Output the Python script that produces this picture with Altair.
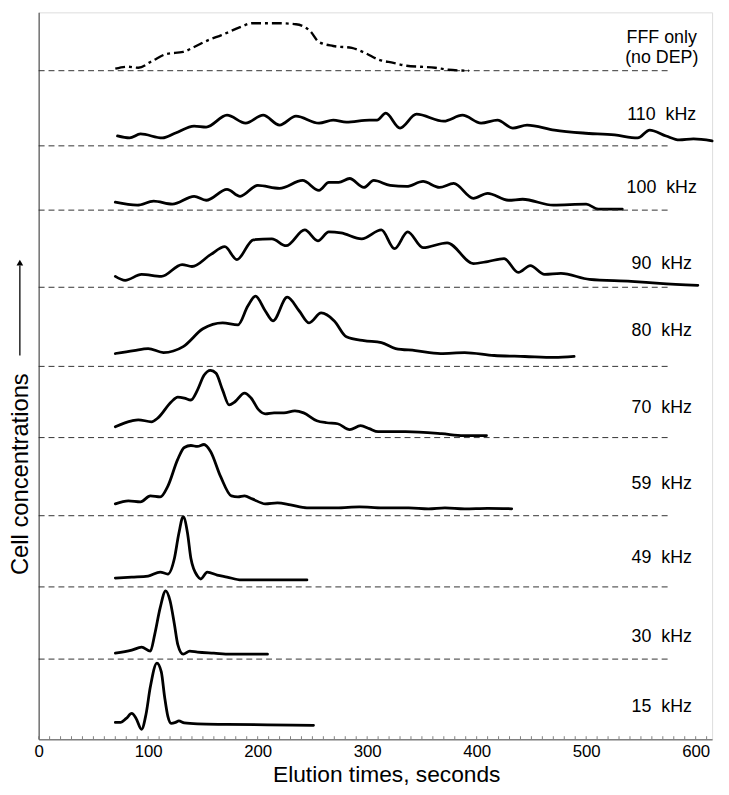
import altair as alt
import pandas as pd

# ---- data (elution time in seconds, relative cell concentration above each baseline) ----
series_names = ["FFF only", "110 kHz", "100 kHz", "90 kHz", "80 kHz", "70 kHz",
                "59 kHz", "49 kHz", "30 kHz", "15 kHz"]
baselines = [676, 600, 535, 457, 377, 305, 226, 154, 81, 9]
show_baseline = [True, True, True, True, True, True, True, True, True, False]

t_fff = [70, 81, 91, 104, 117, 132, 142, 155, 167, 184, 195, 218, 235, 248, 256, 269, 286, 298, 311, 324, 336, 349, 362, 374, 393]
h_fff = [2, 4, 3, 10, 17, 19, 24, 31, 36, 44, 48, 48, 47, 40, 29, 25, 23, 18, 11, 8, 5, 4, 3, 1, 0]

t_110 = [72, 83, 93, 113, 125, 142, 153, 172, 189, 205, 220, 235, 256, 269, 281, 302, 309, 317, 330, 345, 370, 387, 404, 419, 433, 446, 471, 497, 526, 547, 558, 573, 585, 598, 615]
h_110 = [10, 8, 12, 8, 13, 20, 19, 31, 23, 31, 21, 30, 23, 26, 24, 26, 26, 33, 18, 32, 25, 31, 23, 26, 18, 21, 16, 13, 11, 8, 16, 10, 6, 7, 5]

t_100 = [70, 90, 105, 122, 142, 153, 172, 184, 200, 220, 241, 256, 265, 274, 284, 297, 306, 321, 336, 351, 366, 379, 397, 410, 429, 442, 470, 500, 511, 533]
h_100 = [8, 5, 9, 6, 14, 10, 21, 14, 25, 22, 30, 20, 28, 28, 32, 23, 30, 25, 24, 29, 23, 27, 12, 17, 10, 11, 5, 6, 1, 1]

t_90 = [70, 79, 94, 112, 131, 140, 157, 170, 181, 196, 213, 226, 243, 255, 265, 276, 295, 313, 325, 337, 351, 373, 397, 410, 425, 438, 449, 462, 477, 503, 541, 567, 602]
h_90 = [11, 7, 13, 11, 23, 21, 33, 41, 28, 48, 49, 42, 58, 47, 56, 55, 49, 58, 39, 56, 40, 45, 24, 26, 29, 15, 22, 13, 14, 8, 6, 4, 2]

t_80 = [70, 87, 100, 114, 132, 150, 168, 182, 191, 198, 207, 214, 227, 238, 247, 258, 270, 281, 297, 313, 326, 344, 367, 389, 416, 444, 471, 489]
h_80 = [13, 16, 18, 14, 20, 38, 44, 42, 61, 71, 56, 46, 70, 56, 44, 54, 46, 30, 26, 24, 18, 16, 13, 14, 11, 10, 9, 10]

t_70 = [70, 85, 91, 103, 109, 121, 127, 133, 139, 145, 151, 157, 162, 168, 174, 179, 188, 194, 201, 207, 215, 224, 234, 242, 254, 263, 273, 284, 294, 302, 310, 335, 368, 388, 409]
h_70 = [11, 17, 18, 16, 20, 36, 41, 40, 38, 48, 63, 68, 65, 48, 33, 36, 45, 40, 28, 24, 25, 25, 27, 25, 17, 15, 14, 8, 12, 9, 6, 6, 4, 2, 2]

t_59 = [70, 82, 93, 102, 111, 118, 127, 133, 139, 145, 151, 157, 166, 176, 182, 188, 195, 207, 218, 230, 245, 272, 293, 314, 338, 356, 371, 389, 410, 432]
h_59 = [12, 15, 14, 20, 19, 30, 57, 69, 71, 70, 72, 65, 40, 20, 19, 20, 17, 12, 13, 11, 8, 8, 9, 8, 8, 7, 8, 7, 7.5, 7]

t_49 = [70, 85, 100, 111, 118, 124, 128, 132, 136, 139, 145, 148, 154, 163, 172, 185, 206, 245]
h_49 = [9, 10, 11, 15, 13, 29, 54, 71, 54, 29, 11, 8, 15, 12, 10, 7, 7, 7]

t_30 = [70, 85, 94, 102, 106, 111, 116, 120, 124, 127, 132, 138, 145, 160, 175, 209]
h_30 = [6, 9, 12, 8, 25, 52, 69, 59, 35, 15, 5, 8, 7, 6, 5, 5]

t_15 = [70, 75, 80, 85, 89, 94, 98, 102, 108, 112, 115, 118, 121, 125, 128, 133, 145, 172, 209, 251]
h_15 = [8, 8, 12, 17, 12, 1, 16, 44, 68, 59, 34, 14, 7, 8, 9.5, 7.5, 6.5, 6, 5.5, 5]

label_text = ["FFF only", "(no DEP)", "110\u00a0 kHz", "100\u00a0 kHz", "90\u00a0 kHz", "80\u00a0 kHz",
              "70\u00a0 kHz", "59\u00a0 kHz", "49\u00a0 kHz", "30\u00a0 kHz", "15\u00a0 kHz"]
label_y = [709, 689, 631, 557, 480, 413, 335, 258, 183, 103, 32]
label_t = 569

x_ticks = [0, 100, 200, 300, 400, 500, 600]
minor_ticks = list(range(0, 611, 10))
baseline_end = 576

# ---- build tables ----
times = [t_fff, t_110, t_100, t_90, t_80, t_70, t_59, t_49, t_30, t_15]
heights = [h_fff, h_110, h_100, h_90, h_80, h_70, h_59, h_49, h_30, h_15]
rows = []
for name, base, ts, hs in zip(series_names, baselines, times, heights):
    for t, h in zip(ts, hs):
        rows.append({"series": name, "t": t, "y": base + h})
df = pd.DataFrame(rows)
df_solid = df[df.series != "FFF only"]
df_fff = df[df.series == "FFF only"]

df_base = pd.DataFrame({"b": [b for b, s in zip(baselines, show_baseline) if s]})
df_base["xs"] = 0
df_base["xe"] = baseline_end
df_lab = pd.DataFrame({"text": label_text, "y": label_y})
df_lab["t"] = label_t
df_ticks = pd.DataFrame({"tk": minor_ticks})

W, H = 681, 735
FONT = "Liberation Sans"
xscale = alt.Scale(domain=[0, 615], nice=False, zero=False)
yscale = alt.Scale(domain=[0, H], nice=False, zero=False)
ax_x = alt.Axis(values=x_ticks, ticks=False, tickSize=0, grid=False, title=None, labelFlush=False,
                labelFont=FONT, labelFontSize=17, labelColor="black", labelPadding=5,
                domainColor="#808080", domainWidth=1.5)
ax_y = alt.Axis(labels=False, ticks=False, grid=False, title=None,
                domainColor="#555555", domainWidth=1.2)

lines = alt.Chart(df_solid).mark_line(interpolate="monotone", strokeWidth=2.8, color="black",
                                      strokeJoin="round", strokeCap="round").encode(
    x=alt.X("t:Q", scale=xscale, axis=ax_x),
    y=alt.Y("y:Q", scale=yscale, axis=ax_y),
    detail="series:N",
)

fff = alt.Chart(df_fff).mark_line(interpolate="monotone", strokeWidth=2.4, color="black",
                                  strokeDash=[10, 4, 3, 4]).encode(
    x=alt.X("t:Q", scale=xscale, axis=ax_x),
    y=alt.Y("y:Q", scale=yscale, axis=ax_y),
)

base_rules = alt.Chart(df_base).mark_rule(strokeDash=[6, 4], strokeWidth=1, color="#333333").encode(
    x=alt.X("xs:Q", scale=xscale, axis=ax_x),
    x2="xe:Q",
    y=alt.Y("b:Q", scale=yscale, axis=ax_y),
)

labels = alt.Chart(df_lab).mark_text(font=FONT, fontSize=18, align="center", baseline="middle",
                                     color="black").encode(
    x=alt.X("t:Q", scale=xscale, axis=ax_x),
    y=alt.Y("y:Q", scale=yscale, axis=ax_y),
    text="text:N",
)

ticks = alt.Chart(df_ticks).mark_rule(color="#808080", strokeWidth=1).encode(
    x=alt.X("tk:Q", scale=xscale, axis=ax_x),
    y=alt.value(H - 3),
    y2=alt.value(H),
)

xtitle = alt.Chart(pd.DataFrame({"s": ["Elution times, seconds"]})).mark_text(
    font=FONT, fontSize=23, align="center", baseline="middle", color="black").encode(
    x=alt.value(352), y=alt.value(771), text="s:N")

ytitle = alt.Chart(pd.DataFrame({"s": ["Cell concentrations"]})).mark_text(
    font=FONT, fontSize=24, align="center", baseline="alphabetic", angle=270, color="black").encode(
    x=alt.value(-11), y=alt.value(467), text="s:N")

arrow_line = alt.Chart(pd.DataFrame({"a": [1]})).mark_rule(color="black", strokeWidth=1.3).encode(
    x=alt.value(-19), y=alt.value(347), y2=alt.value(256))

arrow_head = alt.Chart(pd.DataFrame({"a": [1]})).mark_point(
    shape="triangle-up", filled=True, color="black", size=45, opacity=1).encode(
    x=alt.value(-19), y=alt.value(253))

chart = alt.layer(lines, base_rules, fff, labels, ticks, xtitle, ytitle, arrow_line, arrow_head).properties(
    width=W, height=H,
    autosize=alt.AutoSizeParams(type="none"),
    padding={"left": 31, "top": 0, "right": 9, "bottom": 50},
).configure_view(stroke=None).configure(background="white")

chart.save("out.html", embed_options={"renderer": "svg", "actions": False})
